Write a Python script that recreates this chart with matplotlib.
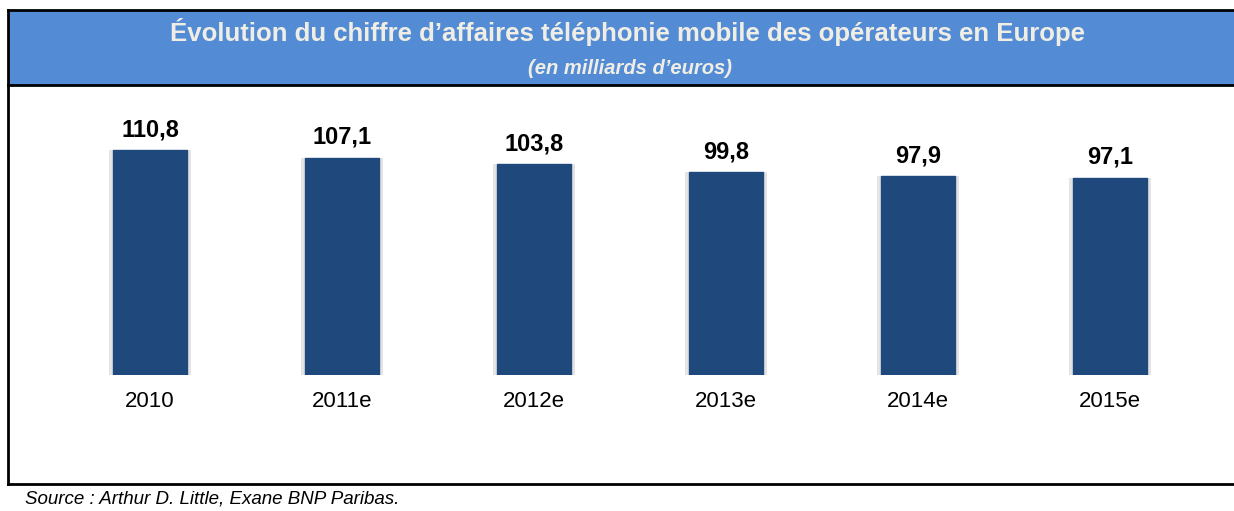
import matplotlib.pyplot as plt
from matplotlib.patches import Rectangle
from matplotlib.lines import Line2D

years = ['2010', '2011e', '2012e', '2013e', '2014e', '2015e']
revenue = [110.8, 107.1, 103.8, 99.8, 97.9, 97.1]
value_labels = ['110,8', '107,1', '103,8', '99,8', '97,9', '97,1']

W, H = 1234, 511
plt.rcParams['font.family'] = ['Liberation Sans', 'DejaVu Sans']

fig = plt.figure(figsize=(W / 100, H / 100), dpi=100)

def fx(px):
    return px / W

def fy(py):
    return 1 - py / H

# header band and frame
fig.patches.append(Rectangle((fx(8), fy(85)), fx(W - 8), (85 - 10) / H,
                             transform=fig.transFigure, facecolor='#538CD5',
                             edgecolor='none', zorder=0))
for xs, ys in [((8, W), (10, 10)), ((8, W), (85, 85)), ((8, 8), (10, 484)), ((8, W), (484, 484))]:
    fig.lines.append(Line2D([fx(x) for x in xs], [fy(y) for y in ys],
                            transform=fig.transFigure, color='black', linewidth=2))

cream = '#F0EEE4'
fig.text(fx(628), fy(41), "Évolution du chiffre d’affaires téléphonie mobile des opérateurs en Europe",
         ha='center', va='baseline', color=cream, fontsize=18.5, fontweight='bold')
fig.text(fx(630), fy(74), "(en milliards d’euros)", ha='center', va='baseline',
         color=cream, fontsize=14.5, fontstyle='italic', fontweight='bold')
fig.text(fx(25), fy(504), "Source : Arthur D. Little, Exane BNP Paribas.",
         ha='left', va='baseline', color='black', fontsize=13.5, fontstyle='italic')

# chart area
base_px = 375
scale = 2.03
ymax = 120
top_px = base_px - ymax * scale
ax = fig.add_axes([fx(54), fy(base_px), fx(1206 - 54), (base_px - top_px) / H])
x = range(len(years))
ax.bar(x, revenue, width=0.43, color='#E4E4E4', zorder=1)
ax.bar(x, revenue, width=0.39, color='#1F497D', edgecolor='#1F497D', zorder=2)
for i, (v, lab) in enumerate(zip(revenue, value_labels)):
    ax.annotate(lab, (i, v), xytext=(0, 10), textcoords='offset points',
                ha='center', va='baseline', fontsize=17, fontweight='bold')
    ax.annotate(years[i], (i, 0), xytext=(0, -23), textcoords='offset points',
                ha='center', va='baseline', fontsize=16)
ax.set_xlim(-0.5, len(years) - 0.5)
ax.set_ylim(0, ymax)
ax.axis('off')

fig.savefig('out.png', dpi=100)
